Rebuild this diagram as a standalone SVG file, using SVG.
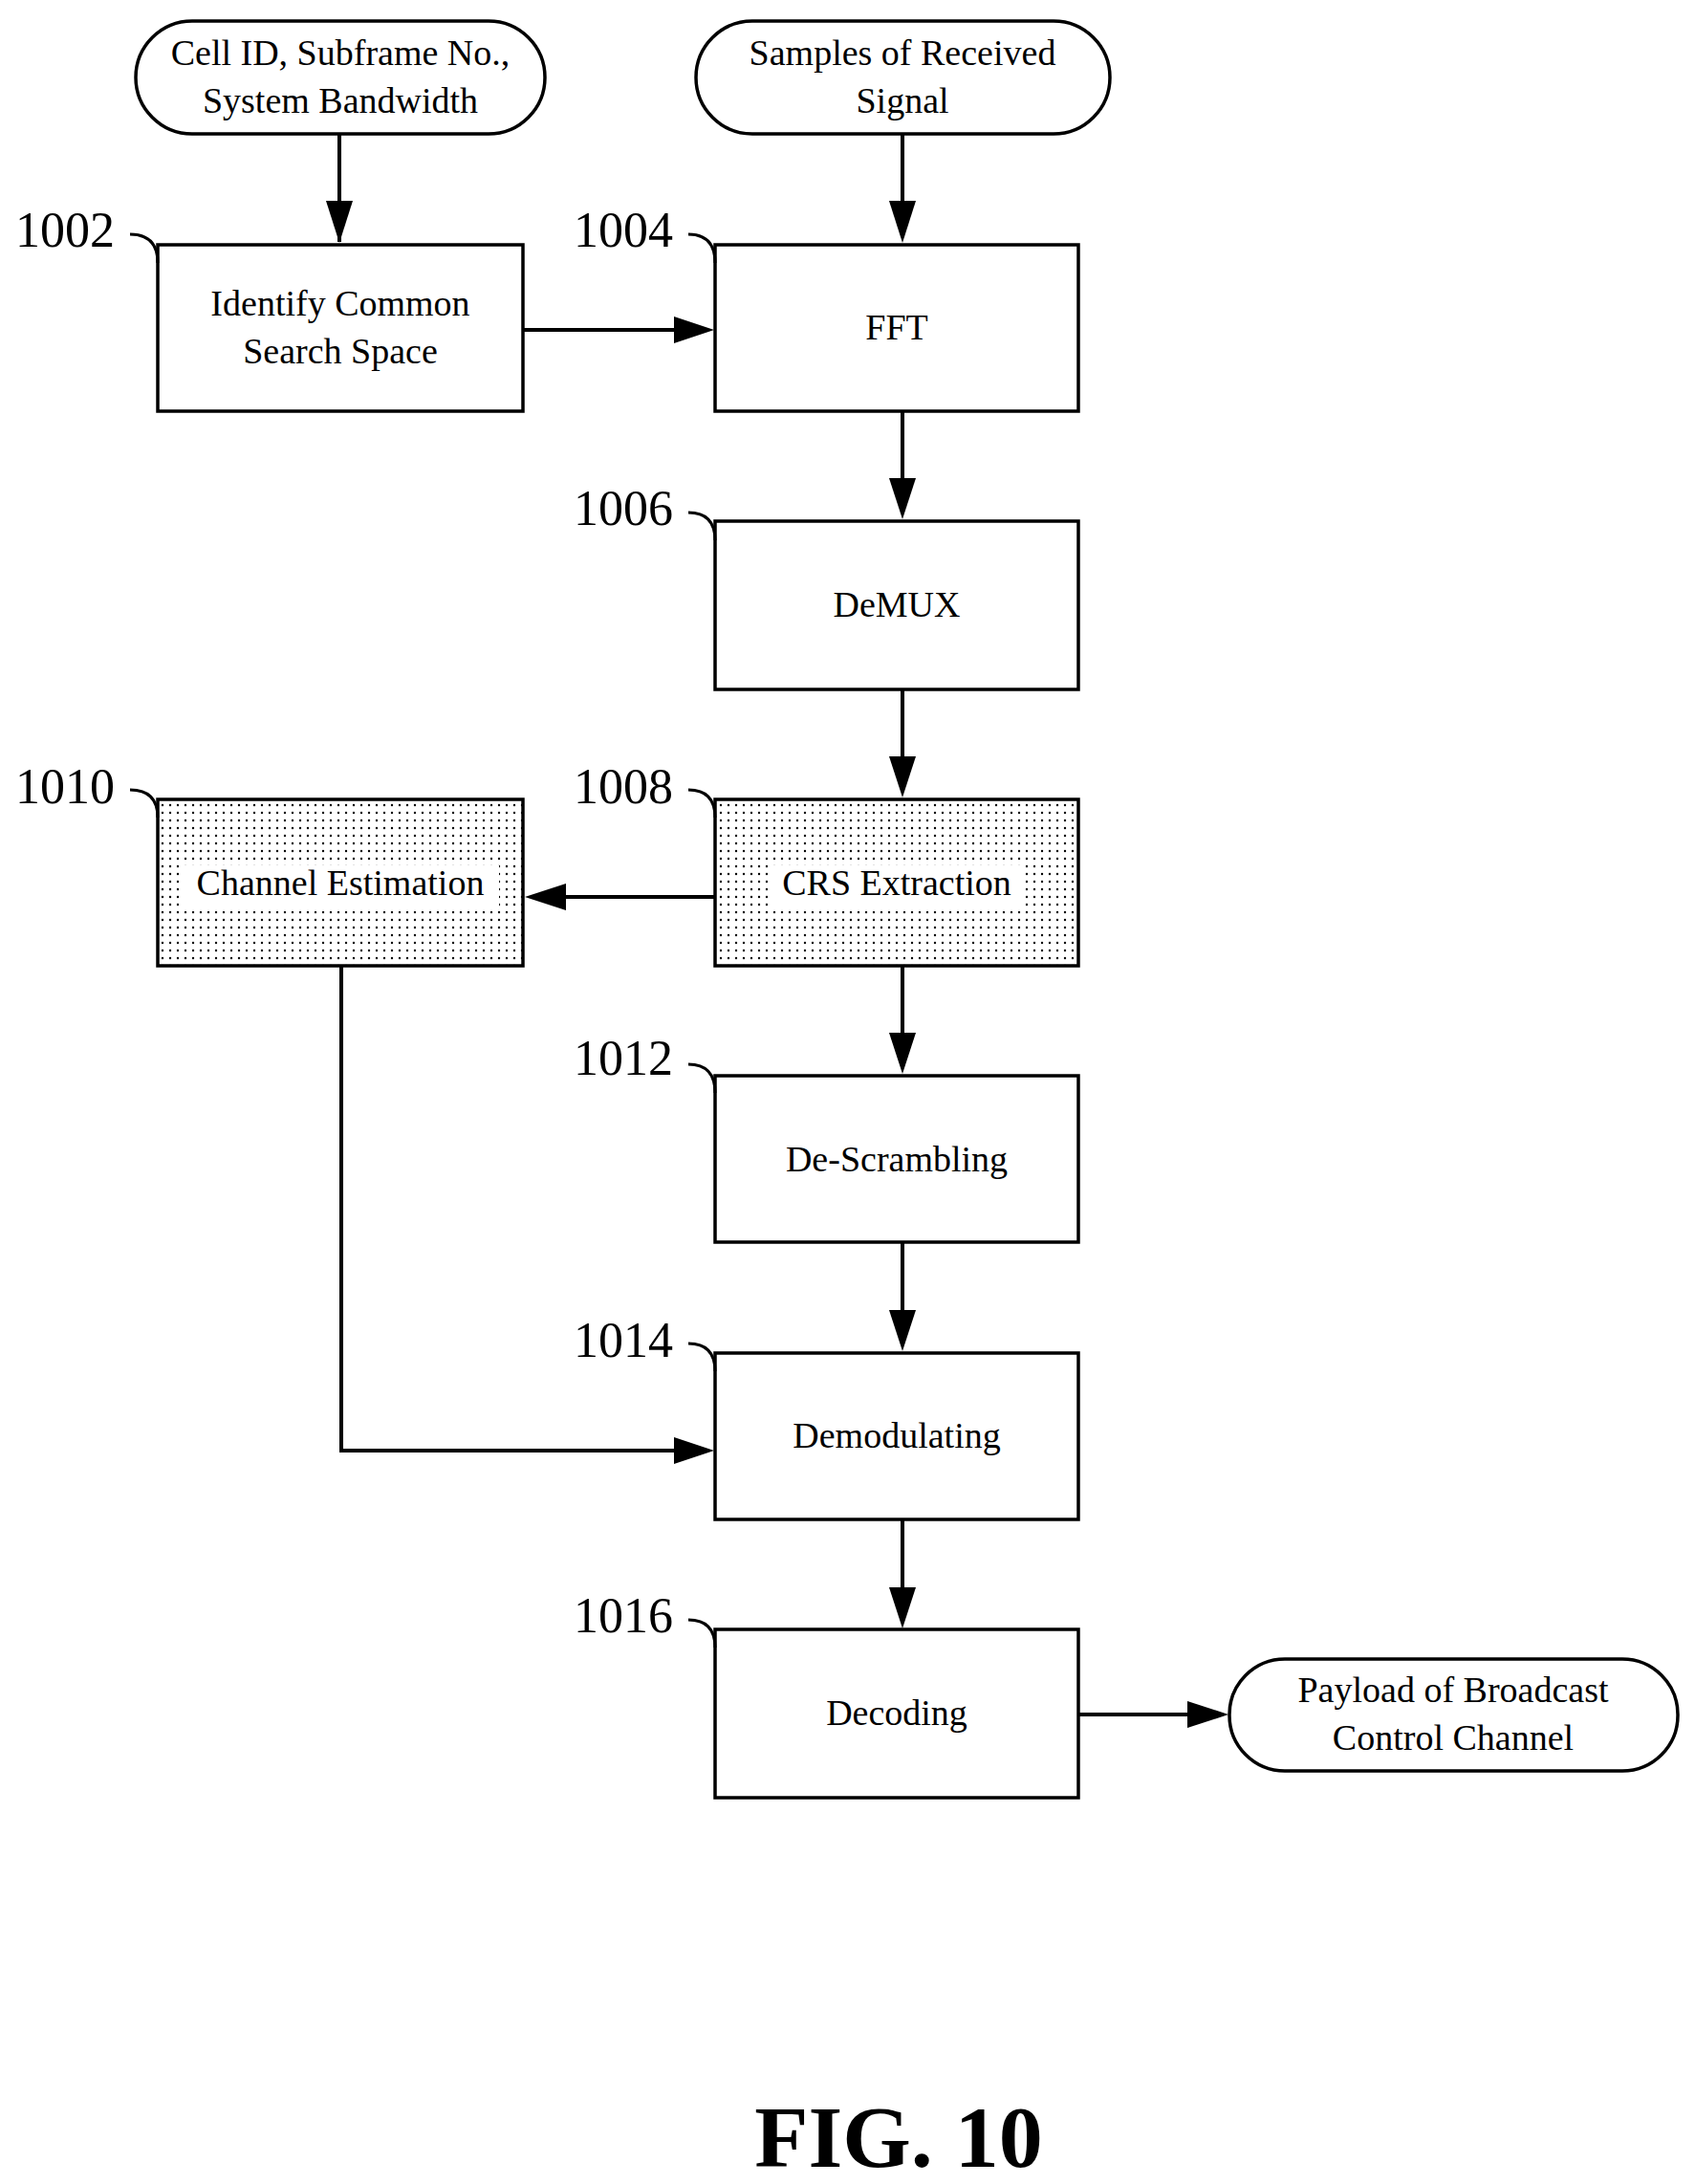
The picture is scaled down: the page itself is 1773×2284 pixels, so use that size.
<svg xmlns="http://www.w3.org/2000/svg" width="1773" height="2284" viewBox="0 0 1773 2284">
<style>
.b{fill:#fff;stroke:#000;stroke-width:3.5}
.s{fill:url(#dots);stroke:#000;stroke-width:3.5}
.t{font-family:"Liberation Serif",serif;font-size:38px;text-anchor:middle;fill:#000}
.n{font-family:"Liberation Serif",serif;font-size:52px;fill:#000}
.c{fill:none;stroke:#000;stroke-width:4}
.l{fill:none;stroke:#000;stroke-width:3}
</style>
<defs>
<pattern id="dots" width="8" height="8" patternUnits="userSpaceOnUse"><rect width="8" height="8" fill="#fff"/><circle cx="2" cy="2" r="1.2" fill="#000"/></pattern>
<marker id="a" markerWidth="12" markerHeight="10" refX="12" refY="5" orient="auto" markerUnits="userSpaceOnUse" viewBox="0 0 12 10"><path d="M0,0 L12,5 L0,10z"/></marker>
</defs>
<rect width="1773" height="2284" fill="#fff"/>
<g id="connectors">
<path class="c" d="M355,140 V253" marker-end="url(#a)" style="marker-end:none"/>
<path d="M341,210 L355,254 L369,210z"/>
<path class="c" d="M944,140 V210"/><path d="M930,210 L944,254 L958,210z"/>
<path class="c" d="M547,345 H705"/><path d="M705,331 L747,345 L705,359z"/>
<path class="c" d="M944,430 V500"/><path d="M930,500 L944,543 L958,500z"/>
<path class="c" d="M944,721 V791"/><path d="M930,791 L944,834 L958,791z"/>
<path class="c" d="M748,938 H592"/><path d="M592,924 L549,938 L592,952z"/>
<path class="c" d="M944,1010 V1080"/><path d="M930,1080 L944,1123 L958,1080z"/>
<path class="c" d="M944,1299 V1370"/><path d="M930,1370 L944,1413 L958,1370z"/>
<path class="c" d="M357,1010 V1517 H705"/><path d="M705,1503 L747,1517 L705,1531z"/>
<path class="c" d="M944,1589 V1660"/><path d="M930,1660 L944,1703 L958,1660z"/>
<path class="c" d="M1128,1793 H1242"/><path d="M1242,1779 L1285,1793 L1242,1807z"/>
</g>
<g id="in1"><rect class="b" x="142" y="22" width="428" height="118" rx="59"/><text class="t" x="356" y="68">Cell ID, Subframe No.,</text><text class="t" x="356" y="118">System Bandwidth</text></g>
<g id="in2"><rect class="b" x="728" y="22" width="433" height="118" rx="59"/><text class="t" x="944" y="68">Samples of Received</text><text class="t" x="944" y="118">Signal</text></g>
<g id="n1002"><rect class="b" x="165" y="256" width="382" height="174"/><text class="t" x="356" y="330">Identify Common</text><text class="t" x="356" y="380">Search Space</text><text class="n" x="16" y="258">1002</text><path class="l" d="M136,245 Q165,245 165,275"/></g>
<g id="n1004"><rect class="b" x="748" y="256" width="380" height="174"/><text class="t" x="938" y="355">FFT</text><text class="n" x="600" y="258">1004</text><path class="l" d="M720,245 Q748,245 748,275"/></g>
<g id="n1006"><rect class="b" x="748" y="545" width="380" height="176"/><text class="t" x="938" y="645">DeMUX</text><text class="n" x="600" y="549">1006</text><path class="l" d="M720,536 Q748,536 748,565"/></g>
<g id="n1008"><rect class="s" x="748" y="836" width="380" height="174"/><rect x="805" y="905" width="266" height="48" fill="#fff"/><text class="t" x="938" y="936">CRS Extraction</text><text class="n" x="600" y="840">1008</text><path class="l" d="M720,826 Q748,826 748,855"/></g>
<g id="n1010"><rect class="s" x="165" y="836" width="382" height="174"/><rect x="190" y="905" width="332" height="48" fill="#fff"/><text class="t" x="356" y="936">Channel Estimation</text><text class="n" x="16" y="840">1010</text><path class="l" d="M136,826 Q165,826 165,855"/></g>
<g id="n1012"><rect class="b" x="748" y="1125" width="380" height="174"/><text class="t" x="938" y="1225">De-Scrambling</text><text class="n" x="600" y="1124">1012</text><path class="l" d="M720,1113 Q748,1113 748,1143"/></g>
<g id="n1014"><rect class="b" x="748" y="1415" width="380" height="174"/><text class="t" x="938" y="1514">Demodulating</text><text class="n" x="600" y="1419">1014</text><path class="l" d="M720,1405 Q748,1405 748,1434"/></g>
<g id="n1016"><rect class="b" x="748" y="1704" width="380" height="176"/><text class="t" x="938" y="1804">Decoding</text><text class="n" x="600" y="1707">1016</text><path class="l" d="M720,1694 Q748,1694 748,1723"/></g>
<g id="out"><rect class="b" x="1286" y="1735" width="469" height="117" rx="58"/><text class="t" x="1520" y="1780">Payload of Broadcast</text><text class="t" x="1520" y="1830">Control Channel</text></g>
<text x="940" y="2266" font-family="Liberation Serif,serif" font-size="92" font-weight="bold" text-anchor="middle">FIG. 10</text>
</svg>
